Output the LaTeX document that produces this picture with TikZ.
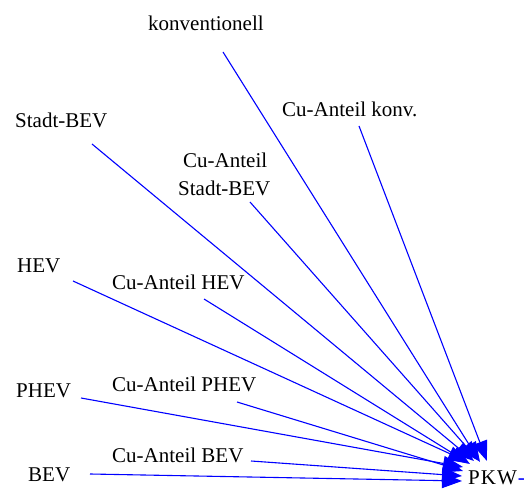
\documentclass[tikz,border=0pt]{standalone}
\usepackage{fontspec}
\setmainfont{Liberation Serif}
\usetikzlibrary{arrows.meta}
\tikzset{
  lbl/.style={anchor=base west, inner sep=0pt, font=\fontsize{21}{25}\selectfont},
  feed/.style={draw=blue, line width=1.1pt, -{Triangle[length=20pt,width=15pt]}}
}
\begin{document}
\begin{tikzpicture}[x=1pt,y=-1pt]
  \useasboundingbox (0,0) rectangle (531,489);
  % labels
  \node[lbl] (konv)   at (148,31)  {konventionell};
  \node[lbl] (cukonv) at (282,117) {Cu-Anteil konv.};
  \node[lbl] (sbev)   at (15,128)  {Stadt-BEV};
  \node[lbl] (cus1)   at (183,168) {Cu-Anteil};
  \node[lbl] (cus2)   at (178,196) {Stadt-BEV};
  \node[lbl] (hev)    at (17,273)  {HEV};
  \node[lbl] (cuhev)  at (112,290) {Cu-Anteil HEV};
  \node[lbl] (phev)   at (16,398)  {PHEV};
  \node[lbl] (cuphev) at (112,392) {Cu-Anteil PHEV};
  \node[lbl] (cubev)  at (112,463) {Cu-Anteil BEV};
  \node[lbl] (bev)    at (28,482)  {BEV};
  \node[lbl] (pkw)    at (468,485) {P\kern1ptK\kern1ptW\kern1pt\textcolor{blue}{-}};
  % line start points
  \coordinate (s1) at (223,52);
  \coordinate (s2) at (359,126);
  \coordinate (s3) at (92,144);
  \coordinate (s4) at (250,202);
  \coordinate (s5) at (73,281);
  \coordinate (s6) at (204,299);
  \coordinate (s7) at (81,398);
  \coordinate (s8) at (237,402);
  \coordinate (s9) at (251,461);
  \coordinate (s10) at (90,474);
  % arrow tips gathered at the PKW node
  \coordinate (t1) at (480,462);
  \coordinate (t2) at (487,461);
  \coordinate (t3) at (474,461);
  \coordinate (t4) at (479,461);
  \coordinate (t5) at (468,462);
  \coordinate (t6) at (470,464);
  \coordinate (t7) at (463,467);
  \coordinate (t8) at (463,471);
  \coordinate (t9) at (462,476);
  \coordinate (t10) at (462,481);
  \foreach \i in {1,...,10} { \draw[feed] (s\i) -- (t\i); }
\end{tikzpicture}
\end{document}
